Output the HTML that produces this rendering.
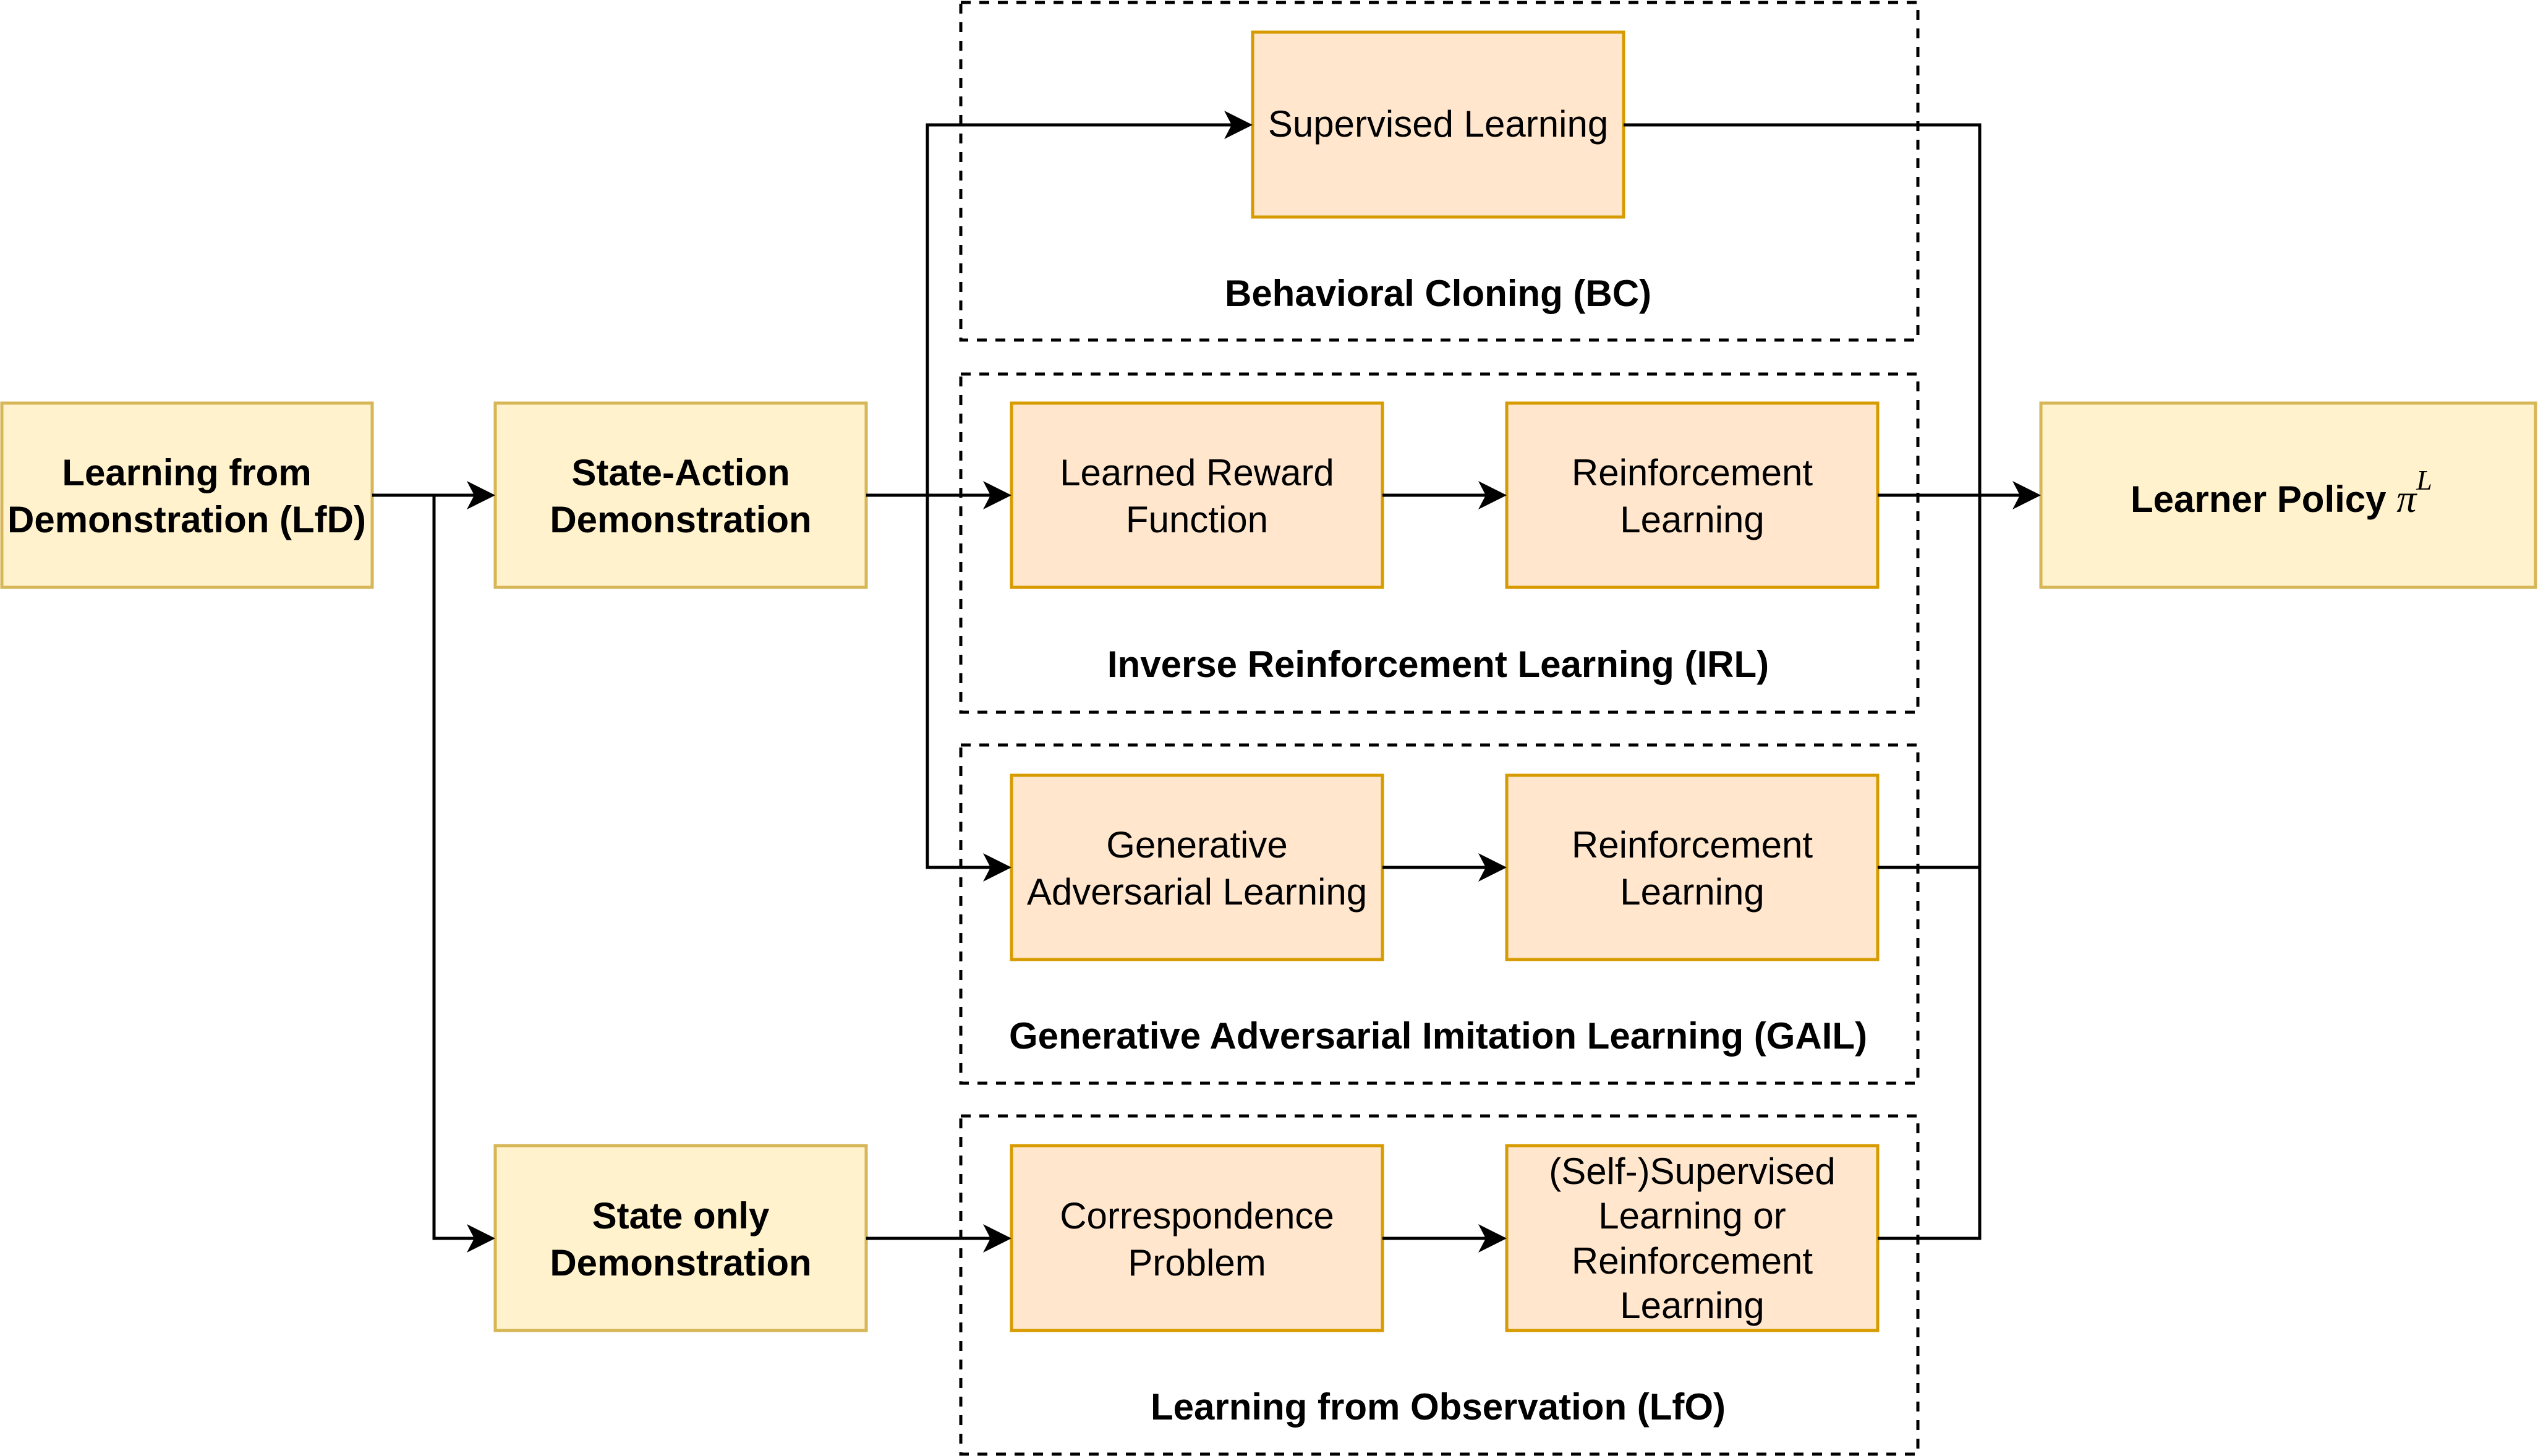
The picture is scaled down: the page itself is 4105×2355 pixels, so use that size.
<!DOCTYPE html>
<html><head><meta charset="utf-8"><style>
html,body{margin:0;padding:0;background:#fff;}
svg{display:block;}
text{font-family:"Liberation Sans",Arial,sans-serif;font-size:60px;fill:#000;}
.b{font-weight:bold;}
</style></head><body>
<svg width="4105" height="2355" viewBox="0 0 4105 2355" xmlns="http://www.w3.org/2000/svg">
<g fill="none" stroke="#000" stroke-width="5" stroke-dasharray="16 14">
<rect x="1554" y="4" width="1548" height="546"/>
<rect x="1554" y="605" width="1548" height="547"/>
<rect x="1554" y="1205" width="1548" height="547"/>
<rect x="1554" y="1805" width="1548" height="547"/>
</g>
<g stroke-width="5">
<rect x="3" y="652" width="599" height="298" fill="#fff2cc" stroke="#d6b656"/>
<rect x="801" y="652" width="600" height="298" fill="#fff2cc" stroke="#d6b656"/>
<rect x="801" y="1853" width="600" height="299" fill="#fff2cc" stroke="#d6b656"/>
<rect x="3301" y="652" width="800" height="298" fill="#fff2cc" stroke="#d6b656"/>
<rect x="2026" y="52" width="600" height="299" fill="#ffe6cc" stroke="#d79b00"/>
<rect x="1636" y="652" width="600" height="298" fill="#ffe6cc" stroke="#d79b00"/>
<rect x="2437" y="652" width="600" height="298" fill="#ffe6cc" stroke="#d79b00"/>
<rect x="1636" y="1254" width="600" height="298" fill="#ffe6cc" stroke="#d79b00"/>
<rect x="2437" y="1254" width="600" height="298" fill="#ffe6cc" stroke="#d79b00"/>
<rect x="1636" y="1853" width="600" height="299" fill="#ffe6cc" stroke="#d79b00"/>
<rect x="2437" y="1853" width="600" height="299" fill="#ffe6cc" stroke="#d79b00"/>
</g>
<g fill="none" stroke="#000" stroke-width="5">
<path d="M602 801H770"/>
<path d="M702 801V2003H770"/>
<path d="M1401 801H1605"/>
<path d="M1500 801V202H1995"/>
<path d="M1500 801V1403H1605"/>
<path d="M2236 801H2406"/>
<path d="M2236 1403H2406"/>
<path d="M1401 2003H1605"/>
<path d="M2236 2003H2406"/>
<path d="M3037 801H3270"/>
<path d="M2626 202H3202V2003H3037"/>
<path d="M3037 1403H3202"/>
</g>
<g fill="#000">
<path d="M801 801l-46-23 12 23-12 23z"/>
<path d="M801 2003l-46-23 12 23-12 23z"/>
<path d="M1636 801l-46-23 12 23-12 23z"/>
<path d="M2026 202l-46-23 12 23-12 23z"/>
<path d="M1636 1403l-46-23 12 23-12 23z"/>
<path d="M2437 801l-46-23 12 23-12 23z"/>
<path d="M2437 1403l-46-23 12 23-12 23z"/>
<path d="M1636 2003l-46-23 12 23-12 23z"/>
<path d="M2437 2003l-46-23 12 23-12 23z"/>
<path d="M3301 801l-46-23 12 23-12 23z"/>
</g>
<g text-anchor="middle">
<text class="b" x="302" y="785">Learning from</text>
<text class="b" x="302" y="861">Demonstration (LfD)</text>
<text class="b" x="1101" y="785">State-Action</text>
<text class="b" x="1101" y="861">Demonstration</text>
<text class="b" x="1101" y="1987">State only</text>
<text class="b" x="1101" y="2063">Demonstration</text>
<text x="2326" y="221">Supervised Learning</text>
<text x="1936" y="785">Learned Reward</text>
<text x="1936" y="861">Function</text>
<text x="2737" y="785">Reinforcement</text>
<text x="2737" y="861">Learning</text>
<text x="1936" y="1387">Generative</text>
<text x="1936" y="1463">Adversarial Learning</text>
<text x="2737" y="1387">Reinforcement</text>
<text x="2737" y="1463">Learning</text>
<text x="1936" y="1987">Correspondence</text>
<text x="1936" y="2063">Problem</text>
<text x="2737" y="1915">(Self-)Supervised</text>
<text x="2737" y="1987">Learning or</text>
<text x="2737" y="2060">Reinforcement</text>
<text x="2737" y="2132">Learning</text>
<text class="b" x="2326" y="495">Behavioral Cloning (BC)</text>
<text class="b" x="2326" y="1095">Inverse Reinforcement Learning (IRL)</text>
<text class="b" x="2326" y="1696">Generative Adversarial Imitation Learning (GAIL)</text>
<text class="b" x="2326" y="2296">Learning from Observation (LfO)</text>
</g>
<text class="b" x="3446" y="828">Learner Policy <tspan font-family="Liberation Serif" font-style="italic" font-weight="normal" font-size="64">π</tspan><tspan font-family="Liberation Serif" font-style="italic" font-weight="normal" font-size="46" dy="-36">L</tspan></text>
</svg>
</body></html>
